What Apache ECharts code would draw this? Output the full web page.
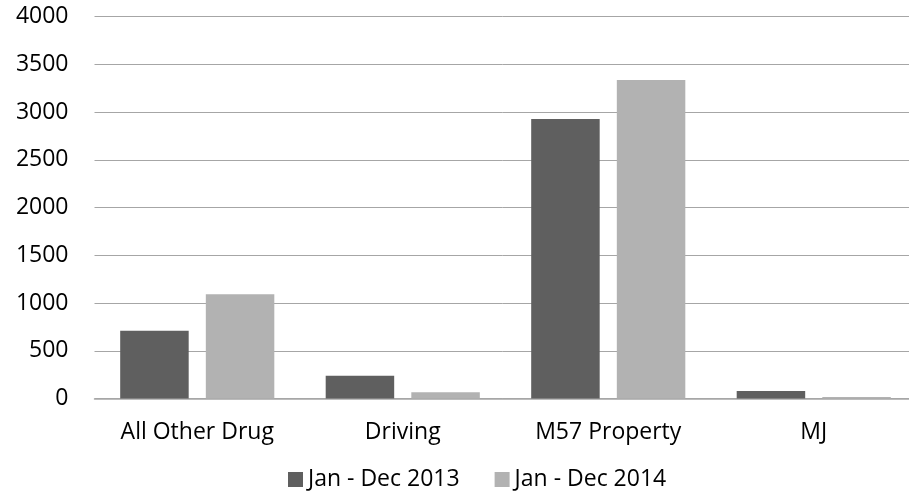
<!DOCTYPE html>
<html><head><meta charset="utf-8">
<script src="https://cdn.jsdelivr.net/npm/echarts@6/dist/echarts.min.js"></script>
<style>html,body{margin:0;padding:0;background:#fff}#c{width:909px;height:500px}</style>
</head><body><div id="c"></div>
<script>
const categories = ["All Other Drug", "Driving", "M57 Property", "MJ"];
const series2013 = [710, 239, 2928, 79];
const series2014 = [1092, 65, 3337, 16];
const seriesNames = ["Jan - Dec 2013", "Jan - Dec 2014"];
const font = "Open Sans";
const chart = echarts.init(document.getElementById('c'));
chart.setOption({
  animation: false,
  textStyle: {fontFamily: font},
  grid: {left: 94.5, right: -7.5, top: 16.7, bottom: 101.5, containLabel: false, outerBoundsMode: 'none'},
  legend: {
    bottom: 4, left: 283, itemWidth: 15, itemHeight: 15, itemGap: 35,
    icon: 'rect',
    textStyle: {fontFamily: font, fontSize: 23, color: '#000', padding: [0, 0, 0, 0]},
    data: seriesNames
  },
  xAxis: {
    type: 'category', data: categories,
    axisLine: {lineStyle: {color: '#a6a6a6', width: 1.5}},
    axisTick: {show: false},
    axisLabel: {color: '#000', fontSize: 23, fontFamily: font, margin: 22}
  },
  yAxis: {
    type: 'value', min: 0, max: 4000, interval: 500,
    axisLine: {show: false}, axisTick: {show: false},
    splitLine: {lineStyle: {color: '#a6a6a6', width: 1}},
    axisLabel: {color: '#000', fontSize: 23, fontFamily: font, margin: 26,
                formatter: function (v) { return String(v); }}
  },
  series: [
    {name: seriesNames[0], type: 'bar', data: series2013, barWidth: 68.5, barGap: '25%',
     itemStyle: {color: '#5f5f5f'}},
    {name: seriesNames[1], type: 'bar', data: series2014, barWidth: 68.5,
     itemStyle: {color: '#b2b2b2'}}
  ]
});
</script></body></html>
